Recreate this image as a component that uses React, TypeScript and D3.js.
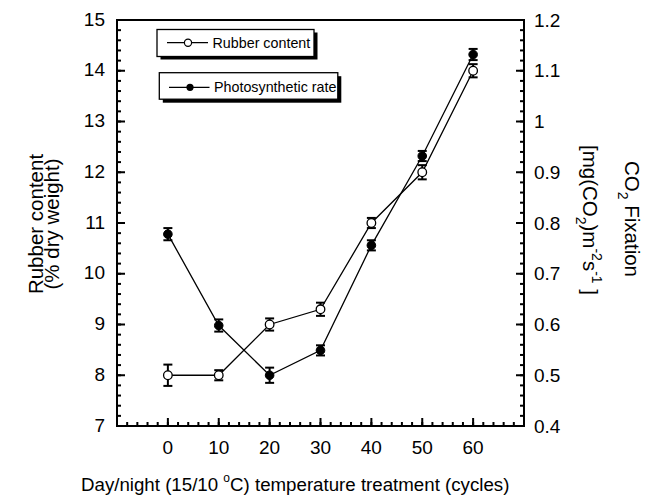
import React from "react";
import * as d3 from "d3";

// cycles of day/night treatment
const cycles = [0, 10, 20, 30, 40, 50, 60];
// rubber content, % dry weight (left axis)
const rubber = [8.0, 8.0, 9.0, 9.3, 11.0, 12.0, 14.0];
const rubberErr = [0.21, 0.1, 0.12, 0.13, 0.1, 0.14, 0.13];
// photosynthetic rate, mg CO2 m-2 s-1 (right axis)
const photo = [0.778, 0.598, 0.5, 0.549, 0.756, 0.932, 1.132];
const photoErr = [0.012, 0.012, 0.015, 0.01, 0.01, 0.01, 0.011];

const xTicks = [0, 10, 20, 30, 40, 50, 60];
const leftTicks = [7, 8, 9, 10, 11, 12, 13, 14, 15];
const rightTicks = [0.4, 0.5, 0.6, 0.7, 0.8, 0.9, 1, 1.1, 1.2];

const W = 652;
const H = 498;
const font = "'Liberation Sans', Arial, Helvetica, sans-serif";

export default function App() {
  const left = 117;
  const right = 524;
  const top = 20;
  const bottom = 426;

  const x = d3.scaleLinear().domain([-10, 70]).range([left, right]);
  const yL = d3.scaleLinear().domain([7, 15]).range([bottom, top]);
  const yR = d3.scaleLinear().domain([0.4, 1.2]).range([bottom, top]);

  const xMinor = d3.range(-10, 70.001, 2);
  const lMinor = d3.range(7, 15.001, 0.2);
  const rMinor = d3.range(0.4, 1.2001, 0.02);

  const rubberLine = d3
    .line<number>()
    .x((_, i) => x(cycles[i]))
    .y((d) => yL(d))(rubber);
  const photoLine = d3
    .line<number>()
    .x((_, i) => x(cycles[i]))
    .y((d) => yR(d))(photo);

  const errBar = (cx: number, y1: number, y2: number, key: string) => (
    <g key={key} stroke="#000" strokeWidth={2}>
      <line x1={cx} x2={cx} y1={y1} y2={y2} />
      <line x1={cx - 4.5} x2={cx + 4.5} y1={y1} y2={y1} />
      <line x1={cx - 4.5} x2={cx + 4.5} y1={y2} y2={y2} />
    </g>
  );

  return (
    <>
      <style>{"body{margin:0}"}</style>
      <svg width={W} height={H} style={{ display: "block", background: "#fff" }} fontFamily={font}>
        {/* data lines */}
        <path d={rubberLine || ""} fill="none" stroke="#000" strokeWidth={1.3} />
        <path d={photoLine || ""} fill="none" stroke="#000" strokeWidth={1.3} />

        {/* error bars */}
        {rubber.map((v, i) => errBar(x(cycles[i]), yL(v + rubberErr[i]), yL(v - rubberErr[i]), "re" + i))}
        {photo.map((v, i) => errBar(x(cycles[i]), yR(v + photoErr[i]), yR(v - photoErr[i]), "pe" + i))}

        {/* markers */}
        {rubber.map((v, i) => (
          <circle key={"rm" + i} cx={x(cycles[i])} cy={yL(v)} r={4.3} fill="#fff" stroke="#000" strokeWidth={1.3} />
        ))}
        {photo.map((v, i) => (
          <circle key={"pm" + i} cx={x(cycles[i])} cy={yR(v)} r={4.3} fill="#000" stroke="#000" strokeWidth={1} />
        ))}

        {/* ticks */}
        <g stroke="#000" strokeWidth={2}>
          {xMinor.map((t) => (
            <line key={"xm" + t} x1={x(t)} x2={x(t)} y1={bottom} y2={bottom - 4} />
          ))}
          {xTicks.map((t) => (
            <line key={"xM" + t} x1={x(t)} x2={x(t)} y1={bottom} y2={bottom - 8} />
          ))}
          {lMinor.map((t, i) => (
            <line key={"lm" + i} x1={left} x2={left + 4} y1={yL(t)} y2={yL(t)} />
          ))}
          {leftTicks.map((t) => (
            <line key={"lM" + t} x1={left} x2={left + 8} y1={yL(t)} y2={yL(t)} />
          ))}
          {rMinor.map((t, i) => (
            <line key={"rm" + i} x1={right} x2={right - 4} y1={yR(t)} y2={yR(t)} />
          ))}
          {rightTicks.map((t) => (
            <line key={"rM" + t} x1={right} x2={right - 8} y1={yR(t)} y2={yR(t)} />
          ))}
        </g>

        {/* frame */}
        <rect x={left} y={top} width={right - left} height={bottom - top} fill="none" stroke="#000" strokeWidth={2} />

        {/* tick labels */}
        <g fontSize={19} fill="#000">
          {xTicks.map((t) => (
            <text key={"xl" + t} x={x(t)} y={454} textAnchor="middle">
              {t}
            </text>
          ))}
          {leftTicks.map((t) => (
            <text key={"ll" + t} x={105} y={yL(t) + 5.5} textAnchor="end">
              {t}
            </text>
          ))}
          {rightTicks.map((t) => (
            <text key={"rl" + t} x={534} y={yR(t) + 6.5} textAnchor="start">
              {d3.format("~g")(t)}
            </text>
          ))}
        </g>

        {/* axis titles */}
        <text x={81} y={491} fontSize={18.7}>
          Day/night (15/10{" "}
          <tspan fontSize={12} dy={-9}>
            o
          </tspan>
          <tspan dy={9}>C) temperature treatment (cycles)</tspan>
        </text>

        <g fontSize={20.5}>
          <text transform="translate(43,224) rotate(-90)" textAnchor="middle">
            Rubber content
          </text>
          <text transform="translate(59,224) rotate(-90)" textAnchor="middle">
            (% dry weight)
          </text>
          <text transform="translate(625,277) rotate(90)" textAnchor="end">
            CO
            <tspan fontSize={14} dy={7}>
              2
            </tspan>
            <tspan dy={-7}> Fixation</tspan>
          </text>
          <text transform="translate(583,295) rotate(90)" textAnchor="end">
            [mg(CO
            <tspan fontSize={14} dy={7}>
              2
            </tspan>
            <tspan dy={-7}>)m</tspan>
            <tspan fontSize={14} dy={-9}>
              -2
            </tspan>
            <tspan dy={9}>s</tspan>
            <tspan fontSize={14} dy={-9}>
              -1
            </tspan>
            <tspan dy={9}> ]</tspan>
          </text>
        </g>

        {/* legend */}
        <g>
          <rect x={160.5} y={32.5} width={157} height={27} fill="#000" />
          <rect x={157} y={29.5} width={157} height={27} fill="#fff" stroke="#000" strokeWidth={1.3} />
          <line x1={167} x2={208} y1={42.7} y2={42.7} stroke="#000" strokeWidth={1.3} />
          <circle cx={188} cy={42.7} r={3.6} fill="#fff" stroke="#000" strokeWidth={1.2} />
          <text x={212.5} y={47.8} fontSize={14.3}>
            Rubber content
          </text>

          <rect x={162.8} y={76.2} width={178.5} height={26.5} fill="#000" />
          <rect x={159.3} y={72.7} width={178.5} height={26.5} fill="#fff" stroke="#000" strokeWidth={1.3} />
          <line x1={169} x2={209.5} y1={87.3} y2={87.3} stroke="#000" strokeWidth={1.3} />
          <circle cx={190} cy={87.3} r={3.6} fill="#000" />
          <text x={214} y={91.8} fontSize={14.3}>
            Photosynthetic rate
          </text>
        </g>
      </svg>
    </>
  );
}
